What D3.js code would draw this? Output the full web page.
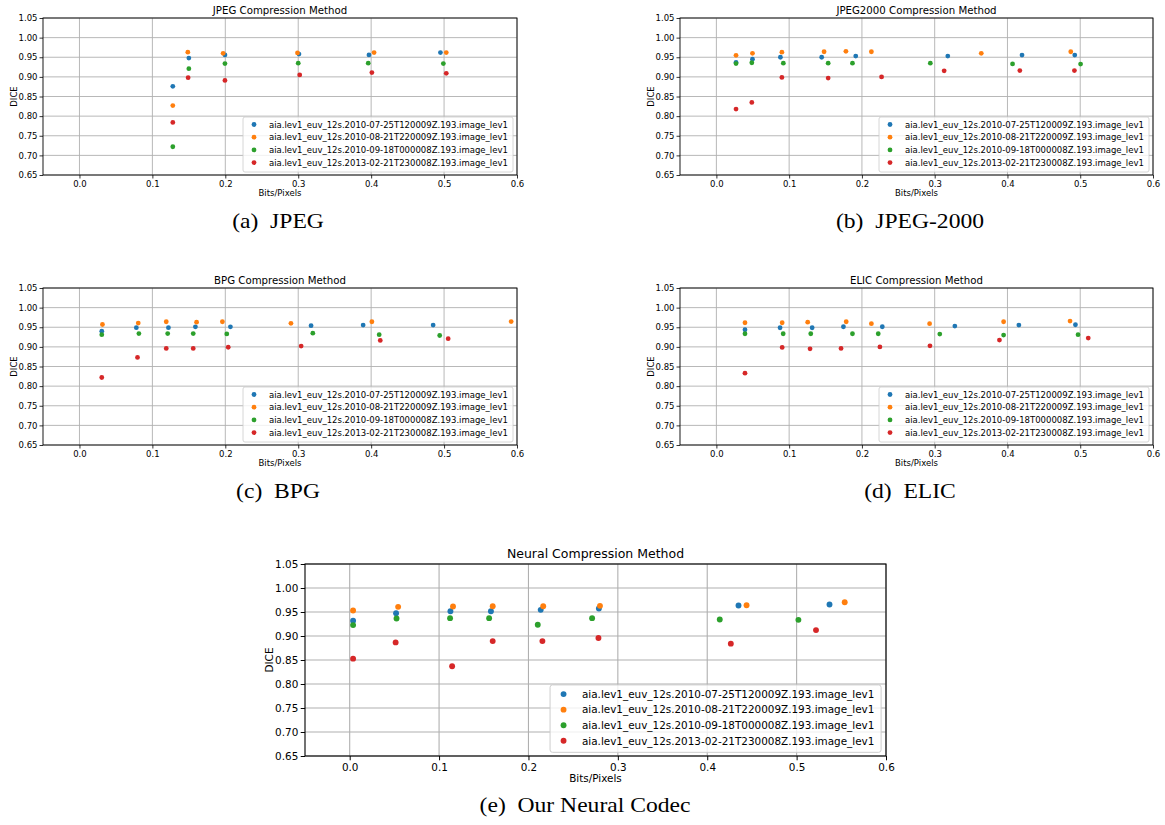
<!DOCTYPE html>
<html><head><meta charset="utf-8">
<script src="https://cdn.jsdelivr.net/npm/d3@7"></script>
<style>html,body{margin:0;padding:0;background:#fff}svg{display:block}</style>
</head><body>
<svg id="fig" width="1165" height="825"></svg>
<script>
// ---------- data ----------
const xTicks = [0.0, 0.1, 0.2, 0.3, 0.4, 0.5, 0.6];
const yTicks = [0.65, 0.70, 0.75, 0.80, 0.85, 0.90, 0.95, 1.00, 1.05];
const seriesNames = [
  "aia.lev1_euv_12s.2010-07-25T120009Z.193.image_lev1",
  "aia.lev1_euv_12s.2010-08-21T220009Z.193.image_lev1",
  "aia.lev1_euv_12s.2010-09-18T000008Z.193.image_lev1",
  "aia.lev1_euv_12s.2013-02-21T230008Z.193.image_lev1"
];
const seriesColors = ["#1f77b4", "#ff7f0e", "#2ca02c", "#d62728"];

const jpegBits = [
  [0.128, 0.150, 0.1995, 0.301, 0.397, 0.495],
  [0.128, 0.1486, 0.197, 0.299, 0.404, 0.503],
  [0.128, 0.150, 0.1995, 0.300, 0.396, 0.499],
  [0.128, 0.149, 0.1995, 0.302, 0.401, 0.503]
];
const jpegDice = [
  [0.876, 0.948, 0.956, 0.958, 0.956, 0.962],
  [0.827, 0.963, 0.960, 0.961, 0.962, 0.962],
  [0.722, 0.921, 0.934, 0.935, 0.935, 0.934],
  [0.784, 0.898, 0.891, 0.905, 0.911, 0.909]
];

const j2kBits = [
  [0.027, 0.0496, 0.088, 0.1447, 0.1915, 0.318, 0.420, 0.4925],
  [0.027, 0.0496, 0.090, 0.148, 0.178, 0.213, 0.364, 0.487],
  [0.027, 0.0487, 0.092, 0.1536, 0.187, 0.294, 0.407, 0.5005],
  [0.027, 0.0487, 0.090, 0.1536, 0.227, 0.313, 0.417, 0.492]
];
const j2kDice = [
  [0.937, 0.945, 0.950, 0.950, 0.953, 0.953, 0.9555, 0.9555],
  [0.955, 0.960, 0.963, 0.964, 0.965, 0.964, 0.960, 0.964],
  [0.934, 0.936, 0.935, 0.935, 0.935, 0.935, 0.933, 0.9325],
  [0.818, 0.835, 0.8985, 0.897, 0.900, 0.9155, 0.916, 0.916]
];

const bpgBits = [
  [0.0306, 0.078, 0.122, 0.159, 0.207, 0.3176, 0.389, 0.485],
  [0.0315, 0.0806, 0.119, 0.1606, 0.196, 0.290, 0.401, 0.592],
  [0.0306, 0.0815, 0.121, 0.156, 0.202, 0.320, 0.411, 0.494],
  [0.0306, 0.0796, 0.119, 0.156, 0.204, 0.304, 0.4125, 0.5056]
];
const bpgDice = [
  [0.940, 0.949, 0.949, 0.951, 0.951, 0.954, 0.9555, 0.9555],
  [0.957, 0.9606, 0.964, 0.963, 0.964, 0.960, 0.964, 0.9645],
  [0.931, 0.934, 0.934, 0.934, 0.933, 0.935, 0.931, 0.929],
  [0.822, 0.873, 0.896, 0.896, 0.899, 0.902, 0.9164, 0.921]
];

const elicBits = [
  [0.0393, 0.0875, 0.1316, 0.1746, 0.228, 0.3277, 0.4157, 0.4934],
  [0.0393, 0.0904, 0.1255, 0.1784, 0.213, 0.293, 0.3947, 0.486],
  [0.0393, 0.0918, 0.1297, 0.187, 0.2224, 0.307, 0.3947, 0.497],
  [0.0393, 0.0904, 0.1287, 0.1713, 0.2247, 0.2935, 0.389, 0.511]
];
const elicDice = [
  [0.9436, 0.9487, 0.9487, 0.9513, 0.9513, 0.953, 0.9555, 0.9564],
  [0.9615, 0.9615, 0.963, 0.964, 0.959, 0.959, 0.964, 0.9657],
  [0.9334, 0.9334, 0.9334, 0.9334, 0.9334, 0.9326, 0.930, 0.931],
  [0.833, 0.8985, 0.895, 0.896, 0.900, 0.9028, 0.9172, 0.9223]
];

const neuralBits = [
  [0.0038, 0.0519, 0.1127, 0.158, 0.2137, 0.2788, 0.435, 0.5368],
  [0.0038, 0.0542, 0.1156, 0.160, 0.2165, 0.280, 0.444, 0.5538],
  [0.0038, 0.0524, 0.1123, 0.156, 0.2104, 0.2712, 0.414, 0.502],
  [0.0038, 0.0514, 0.1146, 0.160, 0.2156, 0.2783, 0.4264, 0.5217]
];
const neuralDice = [
  [0.932, 0.9476, 0.9517, 0.9517, 0.9545, 0.9573, 0.9635, 0.9656],
  [0.9531, 0.9607, 0.9614, 0.962, 0.962, 0.9628, 0.9642, 0.9704],
  [0.9227, 0.9365, 0.9372, 0.9372, 0.9234, 0.9372, 0.9344, 0.9337],
  [0.8528, 0.8867, 0.8369, 0.8894, 0.8894, 0.8957, 0.884, 0.9123]
];

const panelTitles = ["JPEG Compression Method", "JPEG2000 Compression Method", "BPG Compression Method", "ELIC Compression Method", "Neural Compression Method"];
const panelCaptions = ["(a)  JPEG", "(b)  JPEG-2000", "(c)  BPG", "(d)  ELIC", "(e)  Our Neural Codec"];
const xLabel = "Bits/Pixels";
const yLabel = "DICE";

// ---------- drawing ----------
const svg = d3.select("#fig");
const SANS = "DejaVu Sans";
const SERIF = "Liberation Serif";

const layouts = [
  {x: 43,  y: 18,  w: 474, h: 157, s: 1,     cx: 278, cy: 228, bits: jpegBits,   dice: jpegDice},
  {x: 680, y: 18,  w: 473, h: 157, s: 1,     cx: 910, cy: 228, bits: j2kBits,    dice: j2kDice},
  {x: 43,  y: 288, w: 474, h: 157, s: 1,     cx: 278, cy: 498, bits: bpgBits,    dice: bpgDice},
  {x: 680, y: 288, w: 473, h: 157, s: 1,     cx: 910, cy: 498, bits: elicBits,   dice: elicDice},
  {x: 305, y: 564, w: 581, h: 192, s: 1.226, cx: 585, cy: 812, bits: neuralBits, dice: neuralDice}
];

function drawPanel(p, i) {
  const s = p.s;
  const fs = 8.5 * s;
  const g = svg.append("g");
  const x = d3.scaleLinear().domain([-0.05, 0.6]).range([p.x, p.x + p.w]);
  const y = d3.scaleLinear().domain([0.65, 1.05]).range([p.y + p.h, p.y]);

  // grid
  g.append("g").selectAll("line").data(xTicks).join("line")
    .attr("x1", d => x(d)).attr("x2", d => x(d))
    .attr("y1", p.y).attr("y2", p.y + p.h)
    .attr("stroke", "#b0b0b0").attr("stroke-width", 0.9 * s);
  g.append("g").selectAll("line").data(yTicks).join("line")
    .attr("x1", p.x).attr("x2", p.x + p.w)
    .attr("y1", d => y(d)).attr("y2", d => y(d))
    .attr("stroke", "#b0b0b0").attr("stroke-width", 0.9 * s);

  // axes
  const ax = g.append("g").attr("transform", `translate(0,${p.y + p.h})`)
    .call(d3.axisBottom(x).tickValues(xTicks).tickFormat(d3.format(".1f"))
      .tickSize(3.5 * s).tickPadding(2.5 * s));
  const ay = g.append("g").attr("transform", `translate(${p.x},0)`)
    .call(d3.axisLeft(y).tickValues(yTicks).tickFormat(d3.format(".2f"))
      .tickSize(3.5 * s).tickPadding(2 * s));
  [ax, ay].forEach(a => {
    a.select(".domain").remove();
    a.selectAll("line").attr("stroke", "#000").attr("stroke-width", 0.8 * s);
    a.selectAll("text").attr("font-family", SANS).attr("font-size", fs).attr("fill", "#000");
  });

  // frame
  g.append("rect").attr("x", p.x).attr("y", p.y).attr("width", p.w).attr("height", p.h)
    .attr("fill", "none").attr("stroke", "#000").attr("stroke-width", 0.9 * s);

  // points
  const pts = g.append("g");
  p.bits.forEach((xs, k) => {
    const data = xs.map((v, j) => [v, p.dice[k][j]]);
    pts.append("g").selectAll("circle").data(data).join("circle")
      .attr("cx", d => x(d[0])).attr("cy", d => y(d[1]))
      .attr("r", 2.4 * s).attr("fill", seriesColors[k]);
  });

  // legend
  const lw = 270 * s, lh = 55 * s;
  const lx = p.x + p.w - 4 * s - lw, ly = p.y + p.h - 3 * s - lh;
  const lg = g.append("g");
  lg.append("rect").attr("x", lx).attr("y", ly).attr("width", lw).attr("height", lh)
    .attr("rx", 2 * s).attr("fill", "#fff").attr("fill-opacity", 0.8)
    .attr("stroke", "#cccccc").attr("stroke-width", 0.8 * s);
  seriesNames.forEach((name, k) => {
    const ry = ly + 7.5 * s + k * 12.7 * s;
    lg.append("circle").attr("cx", lx + 11 * s).attr("cy", ry).attr("r", 2.4 * s).attr("fill", seriesColors[k]);
    lg.append("text").attr("x", lx + 26 * s).attr("y", ry).attr("dy", "0.36em")
      .attr("font-family", SANS).attr("font-size", fs).attr("fill", "#000").text(name);
  });

  // title
  g.append("text").attr("x", p.x + p.w / 2).attr("y", p.y - 4.5 * s)
    .attr("text-anchor", "middle").attr("font-family", SANS).attr("font-size", 10.2 * s)
    .attr("fill", "#000").text(panelTitles[i]);
  // x label
  g.append("text").attr("x", p.x + p.w / 2).attr("y", p.y + p.h + 21 * s)
    .attr("text-anchor", "middle").attr("font-family", SANS).attr("font-size", fs)
    .attr("fill", "#000").text(xLabel);
  // y label
  const ylx = p.x - 26.5 * s, yly = p.y + p.h / 2;
  g.append("text").attr("transform", `translate(${ylx},${yly}) rotate(-90)`)
    .attr("text-anchor", "middle").attr("font-family", SANS).attr("font-size", fs)
    .attr("fill", "#000").text(yLabel);
  // caption
  g.append("text").attr("transform", `translate(${p.cx},${p.cy}) scale(1.18,1)`)
    .attr("text-anchor", "middle").attr("font-family", SERIF).attr("font-size", 20)
    .attr("fill", "#000").attr("xml:space", "preserve").style("white-space", "pre")
    .text(panelCaptions[i]);
}

layouts.forEach((p, i) => drawPanel(p, i));
</script>
</body></html>
